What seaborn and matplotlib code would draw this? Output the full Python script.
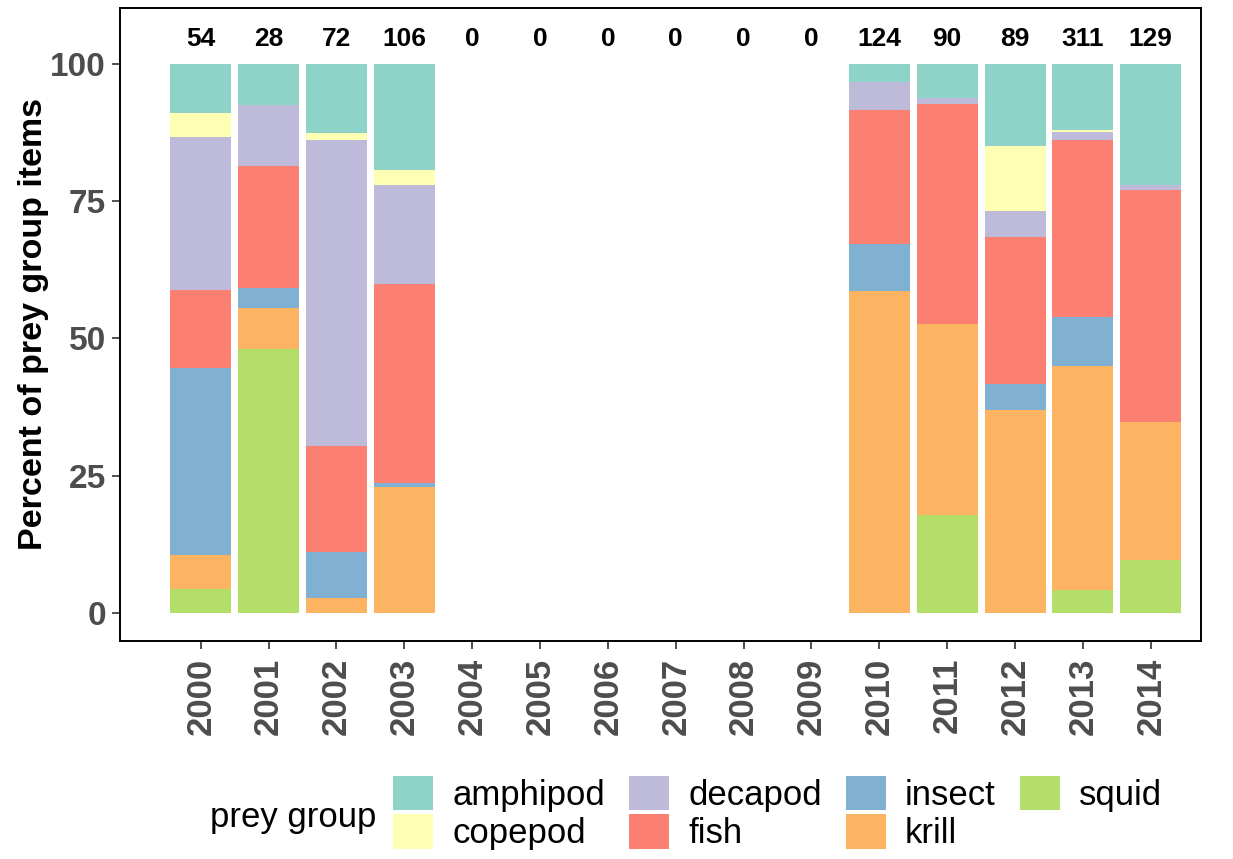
import matplotlib
matplotlib.use("Agg")
import matplotlib.pyplot as plt
from matplotlib.patches import Patch
import numpy as np
import pandas as pd
import seaborn as sns

# Diet composition (% of prey group items) per year
years = list(range(2000, 2015))
n_items = [54, 28, 72, 106, 0, 0, 0, 0, 0, 0, 124, 90, 89, 311, 129]

prey_groups = ["amphipod", "copepod", "decapod", "fish", "insect", "krill", "squid"]
amphipod = [8.9, 7.5, 12.5, 19.3, 0, 0, 0, 0, 0, 0, 3.2, 6.2, 15.0, 12.1, 22.0]
copepod  = [4.4, 0.0, 1.4, 2.7, 0, 0, 0, 0, 0, 0, 0.0, 0.0, 11.8, 0.3, 0.0]
decapod  = [27.8, 11.1, 55.6, 18.0, 0, 0, 0, 0, 0, 0, 5.2, 1.0, 4.7, 1.5, 1.0]
fish     = [14.3, 22.2, 19.4, 36.4, 0, 0, 0, 0, 0, 0, 24.4, 40.2, 26.8, 32.1, 42.2]
insect   = [34.0, 3.7, 8.3, 0.6, 0, 0, 0, 0, 0, 0, 8.5, 0.0, 4.7, 9.1, 0.0]
krill    = [6.2, 7.4, 2.8, 23.0, 0, 0, 0, 0, 0, 0, 58.7, 34.7, 37.0, 40.8, 25.2]
squid    = [4.4, 48.1, 0.0, 0.0, 0, 0, 0, 0, 0, 0, 0.0, 17.9, 0.0, 4.1, 9.6]

group_colors = ["#8DD3C7", "#FFFFB3", "#BEBADA", "#FB8072", "#80B1D3", "#FDB462", "#B3DE69"]

series = dict(zip(prey_groups, [amphipod, copepod, decapod, fish, insect, krill, squid]))
df = pd.DataFrame(
    [(y, g, v) for g, vals in series.items() for y, v in zip(years, vals)],
    columns=["year", "prey group", "percent"],
)

sns.set_style("white")
plt.rcParams["font.family"] = ["Liberation Sans", "DejaVu Sans"]

fig = plt.figure(figsize=(12.33, 8.59), dpi=100)
ax = fig.add_axes([120 / 1233, 1 - 641 / 859, (1201 - 120) / 1233, (641 - 8) / 859])

palette = dict(zip(prey_groups, group_colors))
sns.histplot(
    data=df, x="year", hue="prey group", weights="percent",
    hue_order=prey_groups, palette=palette, multiple="stack",
    discrete=True, shrink=0.9, alpha=1, linewidth=0, legend=False, ax=ax,
)

# sample sizes above each bar
for y, n in zip(years, n_items):
    ax.text(y, 104.6, str(n), ha="center", va="center",
            fontsize=19, fontweight="bold", color="black")

ax.set_xlim(1998.81, 2014.74)
ax.set_ylim(-5.1, 110.2)
ax.set_xticks(years)
ax.set_xticklabels([str(y) for y in years], rotation=90)
ax.set_yticks([0, 25, 50, 75, 100])
ax.tick_params(axis="both", which="major", labelsize=24, length=6, width=1.2,
               color="#333333", labelcolor="#4D4D4D", pad=4)
ax.tick_params(axis="x", bottom=True, labelsize=25, pad=6)
ax.tick_params(axis="y", left=True)
for lab in ax.get_xticklabels() + ax.get_yticklabels():
    lab.set_fontweight("bold")

for sp in ax.spines.values():
    sp.set_visible(True)
    sp.set_color("black")
    sp.set_linewidth(1.4)

ax.set_xlabel("")
ax.set_ylabel("Percent of prey group items", fontsize=24.5, fontweight="bold",
              color="black", labelpad=1)

handles = [Patch(facecolor=c, edgecolor="none") for c in group_colors]
leg = fig.legend(
    handles, prey_groups, ncol=4, loc="center left",
    bbox_to_anchor=(393 / 1233, 1 - 813 / 859), frameon=False,
    fontsize=25, borderpad=0, borderaxespad=0, handlelength=1.15,
    handleheight=1.15, handletextpad=0.55, columnspacing=0.7, labelspacing=0.08,
)
for t in leg.get_texts():
    t.set_color("black")
fig.text(210 / 1233, 1 - 818 / 859, "prey group", fontsize=25, ha="left",
         va="center", color="black")

fig.savefig("out.png", dpi=100)
